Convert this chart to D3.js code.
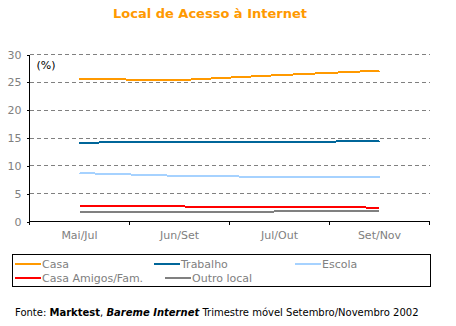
<!DOCTYPE html>
<html>
<head>
<meta charset="utf-8">
<script src="https://cdn.jsdelivr.net/npm/d3@7"></script>
<style>
body { margin: 0; background: #fff; }
text { font-family: "DejaVu Sans", Verdana, sans-serif; }
</style>
</head>
<body>
<script>
var categorias = ["Mai/Jul", "Jun/Set", "Jul/Out", "Set/Nov"];
var casa = [25.6, 25.4, 26.3, 27.1];
var trabalho = [14.15, 14.35, 14.2, 14.5];
var escola = [8.7, 8.2, 8.0, 8.0];
var casaAmigos = [2.7, 2.7, 2.6, 2.5];
var outroLocal = [1.7, 1.7, 1.8, 1.95];
var yTicks = [0, 5, 10, 15, 20, 25, 30];

var series = [
    { nome: "Casa", valores: casa, cor: "#ff9900" },
    { nome: "Trabalho", valores: trabalho, cor: "#006699" },
    { nome: "Escola", valores: escola, cor: "#a6d2ff" },
    { nome: "Casa Amigos/Fam.", valores: casaAmigos, cor: "#ff0000" },
    { nome: "Outro local", valores: outroLocal, cor: "#808080" }
];

var margin = { top: 54.5, left: 29.5 };
var width = 400;
var height = 167;

var svg = d3.select("body").append("svg")
    .attr("width", 456)
    .attr("height", 326);

svg.append("text")
    .attr("x", 210)
    .attr("y", 18)
    .attr("text-anchor", "middle")
    .attr("fill", "#ff9900")
    .attr("font-weight", "bold")
    .attr("font-size", "13px")
    .text("Local de Acesso à Internet");

var g = svg.append("g")
    .attr("transform", "translate(" + margin.left + "," + margin.top + ")");

var x = d3.scaleBand()
    .domain(categorias)
    .range([0, width]);

var y = d3.scaleLinear()
    .domain([0, 30])
    .range([height, 0]);

// grid
g.selectAll(".grid")
    .data(yTicks.slice(1))
    .enter()
    .append("line")
    .attr("class", "grid")
    .attr("x1", 0)
    .attr("x2", width)
    .attr("y1", function(d) { return Math.round(y(d)); })
    .attr("y2", function(d) { return Math.round(y(d)); })
    .attr("stroke", "#808080")
    .attr("stroke-dasharray", "4,3")
    .attr("shape-rendering", "crispEdges");

// y axis
var yAxis = d3.axisLeft(y).tickValues(yTicks).tickSize(3).tickPadding(5);
var ya = g.append("g").call(yAxis);
ya.selectAll("path, line").attr("stroke", "#000").attr("shape-rendering", "crispEdges");
ya.select(".domain").attr("d", "M0," + height + "V0");
ya.selectAll("text").attr("fill", "#808080").attr("font-size", "11px")
    .attr("font-family", "DejaVu Sans, Verdana, sans-serif");

// x axis: labels at centers, ticks at band edges
var xAxis = d3.axisBottom(x).tickSize(0).tickPadding(10);
var xa = g.append("g")
    .attr("transform", "translate(0," + height + ")")
    .call(xAxis);
xa.select(".domain").attr("stroke", "#000").attr("shape-rendering", "crispEdges")
    .attr("d", "M0,0H" + width);
xa.selectAll("text").attr("fill", "#808080").attr("font-size", "11px")
    .attr("font-family", "DejaVu Sans, Verdana, sans-serif");

var edges = categorias.map(function(c) { return x(c); }).concat([width]);
xa.selectAll(".edge")
    .data(edges)
    .enter()
    .append("line")
    .attr("class", "edge")
    .attr("x1", function(d) { return d; })
    .attr("x2", function(d) { return d; })
    .attr("y1", 0)
    .attr("y2", 3)
    .attr("stroke", "#000")
    .attr("shape-rendering", "crispEdges");

g.append("text")
    .attr("x", 7)
    .attr("y", 14)
    .attr("font-size", "11px")
    .attr("fill", "#000")
    .text("(%)");

// lines
var line = d3.line()
    .x(function(d, i) { return x(categorias[i]) + x.bandwidth() / 2; })
    .y(function(d) { return y(d); });

g.selectAll(".serie")
    .data(series.slice().reverse())
    .enter()
    .append("path")
    .attr("class", "serie")
    .attr("d", function(d) { return line(d.valores); })
    .attr("fill", "none")
    .attr("stroke", function(d) { return d.cor; })
    .attr("stroke-width", 2)
    .attr("stroke-linejoin", "bevel")
    .attr("shape-rendering", "crispEdges");

// legend
svg.append("rect")
    .attr("x", 12.5)
    .attr("y", 254.5)
    .attr("width", 418)
    .attr("height", 32)
    .attr("fill", "none")
    .attr("stroke", "#000")
    .attr("shape-rendering", "crispEdges");

var legendPos = [
    { x: 15, y: 263 }, { x: 154, y: 263 }, { x: 295, y: 263 },
    { x: 15, y: 277 }, { x: 165, y: 277 }
];

var leg = svg.selectAll(".leg")
    .data(series)
    .enter()
    .append("g")
    .attr("class", "leg")
    .attr("transform", function(d, i) { return "translate(" + legendPos[i].x + "," + legendPos[i].y + ")"; });

leg.append("line")
    .attr("x1", 0)
    .attr("x2", 26)
    .attr("y1", 0.5)
    .attr("y2", 0.5)
    .attr("stroke", function(d) { return d.cor; })
    .attr("stroke-width", 2)
    .attr("shape-rendering", "crispEdges");

leg.append("text")
    .attr("x", 27)
    .attr("y", 4.5)
    .attr("font-size", "11px")
    .attr("fill", "#808080")
    .text(function(d) { return d.nome; });

// fonte
var fonte = svg.append("text")
    .attr("x", 15)
    .attr("y", 316)
    .attr("font-size", "10px")
    .attr("fill", "#000");
fonte.append("tspan").text("Fonte: ");
fonte.append("tspan").attr("font-weight", "bold").text("Marktest");
fonte.append("tspan").text(", ");
fonte.append("tspan").attr("font-weight", "bold").attr("font-style", "italic").text("Bareme Internet");
fonte.append("tspan").text(" Trimestre móvel Setembro/Novembro 2002");
</script>
</body>
</html>
